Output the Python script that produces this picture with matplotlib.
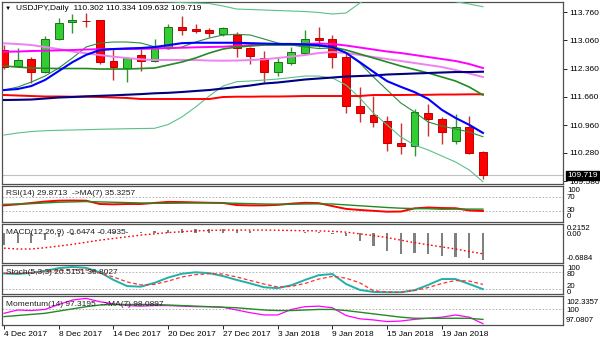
import matplotlib
matplotlib.use('Agg')
import matplotlib.pyplot as plt
import numpy as np

W, H = 600, 343

# ---- price data (USDJPY daily) ----
opens = [112.82, 112.42, 112.59, 112.28, 113.09, 113.51, 113.545, 113.56, 112.55, 112.37,
         112.70, 112.55, 112.86, 113.40, 113.34, 113.315, 113.22, 113.19, 112.86, 112.615,
         112.28, 112.506, 112.74, 113.11, 113.09, 112.64, 111.435, 111.21, 111.064, 110.527,
         110.45, 111.27, 111.106, 110.577, 110.92, 110.302]
highs = [112.95, 112.88, 112.65, 113.17, 113.60, 113.71, 113.74, 113.57, 112.86, 112.63,
         112.84, 113.085, 113.46, 113.66, 113.46, 113.36, 113.40, 113.27, 112.90, 112.80,
         112.63, 112.90, 113.315, 113.40, 113.19, 112.78, 111.90, 111.69, 111.19, 111.007,
         111.36, 111.485, 111.16, 111.23, 111.19, 110.334]
lows = [112.35, 112.40, 112.00, 112.24, 113.08, 113.23, 113.38, 112.47, 112.08, 112.04,
        112.31, 112.52, 112.85, 113.19, 113.23, 113.135, 113.17, 112.655, 112.47, 112.04,
        112.18, 112.45, 112.70, 112.90, 112.37, 111.27, 111.047, 110.91, 110.33, 110.25,
        110.20, 110.69, 110.49, 110.495, 110.25, 109.632]
closes = [112.41, 112.57, 112.28, 113.085, 113.495, 113.56, 113.53, 112.53, 112.39, 112.615,
          112.55, 112.90, 113.38, 113.315, 113.29, 113.23, 113.36, 112.86, 112.68, 112.28,
          112.53, 112.76, 113.085, 113.07, 112.655, 111.435, 111.255, 111.03, 110.527, 110.45,
          111.29, 111.106, 110.785, 110.91, 110.28, 109.719]

# ---- moving averages / bands on the price chart ----
ma_blue = [111.83, 111.856, 111.93, 112.08, 112.30, 112.52, 112.70, 112.82, 112.845, 112.86,
           112.87, 112.895, 112.94, 112.99, 113.00, 113.00, 113.00, 113.00, 112.99, 112.98,
           112.97, 112.97, 112.96, 112.94, 112.895, 112.75, 112.52, 112.28, 112.05, 111.91,
           111.78, 111.61, 111.34, 111.14, 110.97, 110.77]
ma_navy = [111.584, 111.589, 111.596, 111.621, 111.646, 111.658, 111.675, 111.688, 111.70, 111.715,
           111.73, 111.75, 111.762, 111.782, 111.807, 111.831, 111.868, 111.905, 111.943, 111.992,
           112.017, 112.054, 112.091, 112.116, 112.14, 112.165, 112.178, 112.19, 112.215, 112.227,
           112.24, 112.252, 112.264, 112.276, 112.276, 112.284]
ma_red = [111.708, 111.695, 111.683, 111.671, 111.671, 111.666, 111.666, 111.658, 111.646, 111.634,
          111.609, 111.609, 111.609, 111.609, 111.609, 111.609, 111.658, 111.666, 111.666, 111.671,
          111.671, 111.676, 111.683, 111.683, 111.683, 111.683, 111.683, 111.708, 111.708, 111.708,
          111.713, 111.713, 111.72, 111.72, 111.725, 111.725]
ma_magenta = [112.778, 112.783, 112.796, 112.803, 112.813, 112.82, 112.833, 112.84, 112.845, 112.845,
              112.85, 112.858, 112.87, 112.877, 112.887, 112.895, 112.902, 112.92, 112.944, 112.961,
              112.961, 112.961, 112.969, 112.981, 112.969, 112.932, 112.882, 112.833, 112.783, 112.746,
              112.697, 112.647, 112.598, 112.549, 112.474, 112.375]
ma_violet = [112.986, 112.969, 112.944, 112.895, 112.845, 112.783, 112.739, 112.697, 112.655, 112.623,
             112.59, 112.573, 112.573, 112.573, 112.573, 112.56, 112.556, 112.56, 112.573, 112.59,
             112.623, 112.66, 112.697, 112.746, 112.771, 112.746, 112.697, 112.647, 112.598, 112.549,
             112.499, 112.45, 112.40, 112.326, 112.24, 112.153]
ma_green = [112.425, 112.40, 112.375, 112.368, 112.363, 112.363, 112.363, 112.351, 112.351, 112.351,
            112.363, 112.375, 112.45, 112.524, 112.623, 112.746, 112.845, 112.895, 112.92, 112.944,
            112.944, 112.944, 112.932, 112.92, 112.895, 112.82, 112.722, 112.623, 112.524, 112.425,
            112.338, 112.252, 112.153, 112.054, 111.905, 111.708]
bb_mid = [111.83, 111.905, 112.029, 112.177, 112.375, 112.623, 112.895, 112.994, 113.018, 113.018,
          112.994, 112.902, 112.845, 112.895, 113.018, 113.117, 113.191, 113.209, 113.191, 113.093,
          112.994, 112.944, 112.895, 112.858, 112.87, 112.746, 112.499, 112.153, 111.83, 111.51,
          111.287, 111.04, 110.941, 110.867, 110.793, 110.676]
bb_upper = [114.25, 114.25, 114.24, 114.22, 114.20, 114.18, 114.15, 114.12, 114.10, 114.08,
            114.06, 114.04, 114.015, 113.995, 113.983, 113.97, 113.909, 113.834, 113.822, 113.81,
            113.797, 113.785, 113.773, 113.748, 113.711, 113.736, 113.983, 114.18, 114.30, 114.30,
            114.30, 114.25, 114.13, 114.015, 113.958, 113.891]
bb_lower = [110.718, 110.768, 110.805, 110.825, 110.835, 110.842, 110.85, 110.86, 110.867, 110.874,
            110.879, 110.884, 110.978, 111.164, 111.41, 111.683, 111.93, 112.037, 112.054, 112.078,
            112.103, 112.14, 112.177, 112.177, 112.128, 111.955, 111.633, 111.263, 110.966, 110.669,
            110.471, 110.348, 110.199, 110.051, 109.853, 109.564]

# ---- indicators ----
rsi = [46, 49, 53, 57, 59.5, 60, 59.5, 50, 49, 50, 50, 53, 56, 55.5, 54.5, 53.5, 53, 47, 46, 46,
       47.5, 51, 53.5, 52.5, 44, 36, 33, 30.5, 28, 28.5, 37.5, 40, 38.5, 38, 31.5, 29.87]
rsi_ma = [49, 50, 51, 53, 55, 56, 57, 56, 55, 54, 53, 52, 52, 52.5, 53, 53.5, 53, 52, 51, 50,
          49.5, 49.5, 50, 50.5, 50, 47.5, 45, 42.5, 40, 38, 37, 36.5, 35, 35.5, 35.5, 35.33]
macd = [-0.28, -0.24, -0.23, -0.16, -0.10, -0.04, 0.02, 0.03, 0.02, 0.02, 0.03, 0.05, 0.08, 0.09,
        0.09, 0.10, 0.09, 0.07, 0.04, 0.01, 0.0, 0.0, 0.02, 0.03, -0.02, -0.08, -0.20, -0.32,
        -0.43, -0.50, -0.48, -0.50, -0.54, -0.56, -0.60, -0.6474]
macd_signal = [-0.36, -0.38, -0.38, -0.35, -0.31, -0.27, -0.22, -0.17, -0.13, -0.09, -0.05, -0.02,
               0.01, 0.03, 0.05, 0.06, 0.07, 0.07, 0.07, 0.07, 0.065, 0.06, 0.055, 0.05, 0.04, 0.02,
               -0.02, -0.06, -0.11, -0.17, -0.23, -0.28, -0.33, -0.38, -0.44, -0.4935]
stoch_k = [74, 72, 76, 83, 92, 96, 93, 78, 52, 31, 29, 42, 60, 73, 78, 75, 65, 52, 40, 27,
           24, 34, 52, 68, 72, 38, 18, 11, 10, 10, 17, 35, 55, 55, 38, 20.52]
stoch_d = [74, 75, 77, 80, 84, 87, 86, 76, 62, 45, 35, 37, 48, 62, 70, 73, 72, 62, 50, 38,
           28, 30, 40, 55, 64, 58, 42, 15, 11, 10, 16, 26, 40, 50, 48, 36.80]
momentum = [99.2, 99.8, 99.7, 99.9, 100.8, 101.6, 101.9, 101.3, 100.9, 100.6, 100.5, 100.6,
            100.6, 100.5, 100.4, 100.4, 100.3, 99.8, 99.3, 98.9, 98.9, 99.9, 100.4, 100.5, 100.2,
            98.8, 98.2, 98.0, 97.7, 97.8, 98.1, 98.3, 98.5, 98.9, 98.5, 97.32]
momentum_ma = [98.6, 98.8, 99.0, 99.2, 99.6, 100.0, 100.4, 100.7, 100.8, 100.8, 100.8, 100.8,
               100.7, 100.6, 100.5, 100.4, 100.3, 100.2, 100.0, 99.8, 99.7, 99.7, 99.8, 99.9, 99.9,
               99.7, 99.4, 99.1, 98.8, 98.5, 98.3, 98.3, 98.3, 98.3, 98.3, 98.09]

date_ticks = [0, 4, 8, 12, 16, 20, 24, 28, 32]
date_labels = ['4 Dec 2017', '8 Dec 2017', '14 Dec 2017', '20 Dec 2017', '27 Dec 2017',
               '3 Jan 2018', '9 Jan 2018', '15 Jan 2018', '19 Jan 2018']
price_ticks = [113.760, 113.060, 112.360, 111.660, 110.960, 110.280, 109.580]

FONT = ['Liberation Sans', 'DejaVu Sans']
FS = 6
plt.rcParams['font.family'] = FONT

fig = plt.figure(figsize=(W / 100, H / 100), dpi=100)
fig.patch.set_facecolor('white')

X0, X1 = 2, 563
XLIM = (-0.146, 40.85)


def panel(top, bottom):
    ax = fig.add_axes([X0 / W, 1 - bottom / H, (X1 - X0) / W, (bottom - top) / H])
    ax.set_xlim(*XLIM)
    ax.set_xticks([])
    ax.set_yticks([])
    for s in ax.spines.values():
        s.set_color('#505050')
        s.set_linewidth(0.9)
    return ax


def ftext(x, y, s, **kw):
    kw.setdefault('fontsize', FS)
    kw.setdefault('va', 'center')
    kw.setdefault('color', 'black')
    fig.text(x / W, 1 - y / H, s, family=FONT, **kw)


def level(ax, v):
    ax.axhline(v, color='#a8a8a8', lw=0.6, ls=(0, (2, 2)), zorder=1)


x = np.arange(len(closes))
o = np.array(opens)
c = np.array(closes)
up = c >= o

# ---- main price panel ----
ax = panel(2, 184)
ax.set_ylim(109.507, 114.008)
ax.axhline(closes[-1], color='#c0c0c0', lw=0.8, zorder=1)

ax.vlines(x[up], np.array(lows)[up], np.array(highs)[up], color='#2e9a2e', lw=1, zorder=2)
ax.vlines(x[~up], np.array(lows)[~up], np.array(highs)[~up], color='#c83232', lw=1, zorder=2)
body_lo = np.minimum(o, c)
body_h = np.maximum(np.abs(c - o), 0.01)
ax.bar(x[up], body_h[up], bottom=body_lo[up], width=0.58, color='#32cd32',
       edgecolor='#1e6e1e', lw=0.7, zorder=3)
ax.bar(x[~up], body_h[~up], bottom=body_lo[~up], width=0.58, color='#ff0000',
       edgecolor='#c00000', lw=0.7, zorder=3)

ax.plot(x, bb_upper, color='#5cc08a', lw=0.8, zorder=4)
ax.plot(x, bb_lower, color='#5cc08a', lw=0.8, zorder=4)
ax.plot(x, bb_mid, color='#2e8b3e', lw=0.8, zorder=4)
ax.plot(x, ma_red, color='#ff0000', lw=1.4, zorder=4)
ax.plot(x, ma_violet, color='#ee82ee', lw=1.4, zorder=4)
ax.plot(x, ma_magenta, color='#ff00ff', lw=1.4, zorder=4)
ax.plot(x, ma_green, color='#228b22', lw=1.2, zorder=4)
ax.plot(x, ma_navy, color='#000080', lw=1.5, zorder=5)
ax.plot(x, ma_blue, color='#0000ff', lw=1.5, zorder=5)

ax.yaxis.tick_right()
ax.set_yticks(price_ticks)
ax.set_yticklabels(['%.3f' % v for v in price_ticks], fontsize=FS)
ax.tick_params(axis='y', length=3, width=0.6, pad=1.5, colors='black')

ftext(5, 8, '\u25bc', fontsize=4.5)
ftext(16, 8.5, 'USDJPY,Daily  110.302 110.334 109.632 109.719')
ftext(567, 175.5, '109.719', color='white',
      bbox=dict(boxstyle='square,pad=0.15', facecolor='black', edgecolor='black'))

# ---- RSI ----
ax = panel(186, 222)
ax.set_ylim(-1.4, 101.4)
level(ax, 70)
level(ax, 30)
ax.plot(x, rsi_ma, color='#228b22', lw=1.0, zorder=3)
ax.plot(x, rsi, color='#ff0000', lw=1.4, zorder=2)
ftext(6, 193.5, 'RSI(14) 29.8713  ->MA(7) 35.3257', color='#202020')
ftext(567, 190, '100', fontsize=5.6)
ftext(567, 197.5, '70', fontsize=5.6)
ftext(567, 210.5, '30', fontsize=5.6)
ftext(567, 217, '0', fontsize=5.6)

# ---- MACD ----
ax = panel(224, 263)
ax.set_ylim(-0.7126, 0.2138)
ax.bar(x, macd, width=0.16, color='#808080', zorder=2)
ax.plot(x, macd_signal, color='#ff0000', lw=1.0, ls=(0, (1.2, 1.8)), zorder=3)
ftext(6, 232.5, 'MACD(12,26,9) -0.6474 -0.4935', color='#202020')
ftext(567, 228.5, '0.2152', fontsize=5.6)
ftext(567, 235, '0.00', fontsize=5.6)
ftext(567, 258, '-0.6884', fontsize=5.6)

# ---- Stochastic ----
ax = panel(265, 294)
ax.set_ylim(4.1, 102.7)
level(ax, 80)
level(ax, 20)
ax.plot(x, stoch_k, color='#20b2aa', lw=1.4, zorder=3)
ax.plot(x, stoch_d, color='#ff3030', lw=0.9, ls=(0, (3, 2)), zorder=3)
ftext(6, 273, 'Stoch(5,3,3) 20.5151 36.8027', color='#202020')
ftext(567, 268, '100', fontsize=5.6)
ftext(567, 274.5, '80', fontsize=5.6)
ftext(567, 286.5, '20', fontsize=5.6)
ftext(567, 292, '0', fontsize=5.6)

# ---- Momentum ----
ax = panel(296, 325)
ax.set_ylim(97.0807, 102.3357)
level(ax, 100)
ax.plot(x, momentum, color='#ff00ff', lw=0.9, zorder=3)
ax.plot(x, momentum_ma, color='#228b22', lw=1.0, zorder=3)
ftext(6, 304, 'Momentum(14) 97.3195  ->MA(7) 98.0897', color='#202020')
ftext(566, 302, '102.3357', fontsize=5.6)
ftext(566, 310, '100', fontsize=5.6)
ftext(566, 320, '97.0807', fontsize=5.6)

ax.set_xticks(date_ticks)
ax.set_xticklabels(date_labels, fontsize=FS)
ax.tick_params(axis='x', length=3, width=0.6, pad=1.5, colors='black')
for lbl in ax.get_xticklabels():
    lbl.set_ha('left')

fig.savefig('out.png', dpi=100, facecolor='white')
